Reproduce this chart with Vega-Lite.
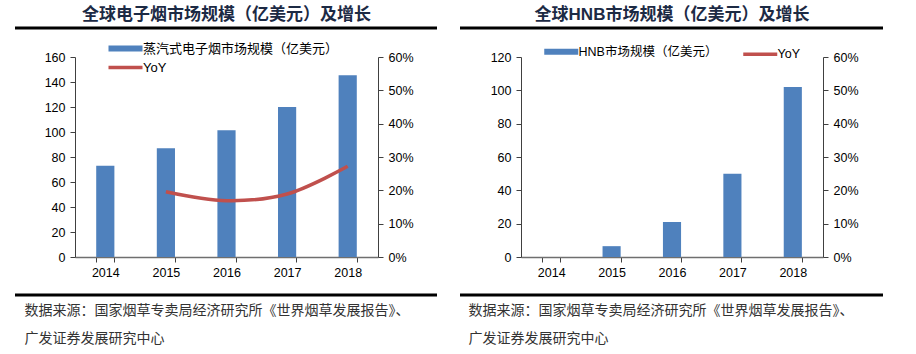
{
  "$schema": "https://vega.github.io/schema/vega-lite/v6.json",
  "background": "white",
  "padding": {"left": 13, "top": 5, "right": 5, "bottom": 5},
  "bounds": "flush",
  "spacing": 143,
  "resolve": {"scale": {"color": "independent"}, "legend": {"color": "independent"}},
  "datasets": {
    "ecig": [
      {"year": "2014", "size": 73, "yoy": null},
      {"year": "2015", "size": 87, "yoy": 0.196},
      {"year": "2016", "size": 101.5, "yoy": 0.169},
      {"year": "2017", "size": 120, "yoy": 0.189},
      {"year": "2018", "size": 145.5, "yoy": 0.272}
    ],
    "hnb": [
      {"year": "2014", "size": 0, "yoy": null},
      {"year": "2015", "size": 6.5, "yoy": null},
      {"year": "2016", "size": 21, "yoy": null},
      {"year": "2017", "size": 50, "yoy": null},
      {"year": "2018", "size": 102, "yoy": null}
    ]
  },
  "config": {
    "view": {"stroke": null},
    "font": "Liberation Sans, Noto Sans CJK SC",
    "axis": {
      "labelFont": "Liberation Sans, Noto Sans CJK SC",
      "labelFontSize": 12.5,
      "labelColor": "#000000",
      "domainColor": "#404040",
      "tickColor": "#404040",
      "tickSize": 5,
      "labelPadding": 5,
      "grid": false
    },
    "title": {
      "font": "Liberation Sans, Noto Sans CJK SC",
      "fontSize": 17,
      "fontWeight": "bold",
      "color": "#1c2a44",
      "anchor": "middle",
      "offset": 3
    },
    "legend": {
      "orient": "none",
      "title": null,
      "padding": 0,
      "symbolType": "stroke",
      "symbolSize": 1156,
      "symbolStrokeWidth": 6,
      "labelFont": "Liberation Sans, Noto Sans CJK SC",
      "labelFontSize": 13,
      "labelColor": "#000000",
      "labelOffset": 11,
      "labelLimit": 400
    }
  },
  "hconcat": [
    {
      "width": 303,
      "height": 200,
      "title": {"text": "全球电子烟市场规模（亿美元）及增长"},
      "data": {"name": "ecig"},
      "encoding": {
        "x": {
          "field": "year",
          "type": "ordinal",
          "scale": {"paddingInner": 0.7, "paddingOuter": 0.35},
          "axis": {
            "labelAngle": 0,
            "tickBand": "extent",
            "domainColor": "#6f6f6f",
            "domainWidth": 1.5,
            "labelPadding": 4,
            "title": ["数据来源：国家烟草专卖局经济研究所《世界烟草发展报告》、", "广发证券发展研究中心"],
            "titleFont": "Noto Sans CJK SC",
            "titleFontSize": 14,
            "titleFontWeight": "normal",
            "titleColor": "#333333",
            "titleAnchor": "start",
            "titleAlign": "left",
            "titleBaseline": "top",
            "titleX": -51,
            "titleY": 46,
            "titleLineHeight": 28
          }
        }
      },
      "layer": [
        {
          "mark": {"type": "bar"},
          "encoding": {
            "y": {
              "field": "size",
              "type": "quantitative",
              "scale": {"domain": [0, 160]},
              "axis": {"orient": "left", "title": null, "values": [0, 20, 40, 60, 80, 100, 120, 140, 160]}
            },
            "color": {
              "datum": "蒸汽式电子烟市场规模（亿美元）",
              "type": "nominal",
              "scale": {"domain": ["蒸汽式电子烟市场规模（亿美元）", "YoY"], "range": ["#4f81bd", "#c0504d"]},
              "legend": {
                "legendX": 44,
                "legendY": -15,
                "direction": "vertical",
                "rowPadding": -7,
                "symbolType": "stroke",
                "encode": {"symbols": {"update": {
                  "strokeWidth": {"signal": "datum.value === 'YoY' ? 3.5 : 6"},
                  "stroke": {"signal": "datum.value === 'YoY' ? '#c0504d' : '#4f81bd'"}
                }}}
              }
            }
          }
        },
        {
          "mark": {"type": "line", "interpolate": "catmull-rom", "strokeWidth": 3.5},
          "encoding": {
            "y": {
              "field": "yoy",
              "type": "quantitative",
              "scale": {"domain": [0, 0.6]},
              "axis": {"orient": "right", "title": null, "format": ".0%", "values": [0, 0.1, 0.2, 0.3, 0.4, 0.5, 0.6]}
            },
            "color": {
              "datum": "YoY",
              "type": "nominal",
              "legend": {
                "legendX": 44,
                "legendY": -15,
                "direction": "vertical",
                "rowPadding": -7,
                "symbolType": "stroke",
                "encode": {"symbols": {"update": {
                  "strokeWidth": {"signal": "datum.value === 'YoY' ? 3.5 : 6"},
                  "stroke": {"signal": "datum.value === 'YoY' ? '#c0504d' : '#4f81bd'"}
                }}}
              }
            }
          }
        },
        {
          "data": {"values": [{}]},
          "mark": {"type": "rule", "color": "#000000", "strokeWidth": 3},
          "encoding": {"x": {"value": -60}, "x2": {"value": 362}, "y": {"value": -29}}
        },
        {
          "data": {"values": [{}]},
          "mark": {"type": "rule", "color": "#000000", "strokeWidth": 3},
          "encoding": {"x": {"value": -60}, "x2": {"value": 362}, "y": {"value": 238}}
        }
      ],
      "resolve": {"scale": {"y": "independent"}}
    },
    {
      "width": 302,
      "height": 200,
      "title": {"text": "全球HNB市场规模（亿美元）及增长"},
      "data": {"name": "hnb"},
      "encoding": {
        "x": {
          "field": "year",
          "type": "ordinal",
          "scale": {"paddingInner": 0.7, "paddingOuter": 0.35},
          "axis": {
            "labelAngle": 0,
            "tickBand": "extent",
            "domainColor": "#6f6f6f",
            "domainWidth": 1.5,
            "labelPadding": 4,
            "title": ["数据来源：国家烟草专卖局经济研究所《世界烟草发展报告》、", "广发证券发展研究中心"],
            "titleFont": "Noto Sans CJK SC",
            "titleFontSize": 14,
            "titleFontWeight": "normal",
            "titleColor": "#333333",
            "titleAnchor": "start",
            "titleAlign": "left",
            "titleBaseline": "top",
            "titleX": -53,
            "titleY": 46,
            "titleLineHeight": 28
          }
        }
      },
      "layer": [
        {
          "mark": {"type": "bar"},
          "encoding": {
            "y": {
              "field": "size",
              "type": "quantitative",
              "scale": {"domain": [0, 120]},
              "axis": {"orient": "left", "title": null, "values": [0, 20, 40, 60, 80, 100, 120]}
            },
            "color": {
              "datum": "HNB市场规模（亿美元）",
              "type": "nominal",
              "scale": {"domain": ["HNB市场规模（亿美元）", "YoY"], "range": ["#4f81bd", "#c0504d"]},
              "legend": {
                "legendX": 34,
                "legendY": -12,
                "direction": "horizontal",
                "columnPadding": 18,
                "labelFontSize": 12.5,
                "symbolType": "stroke",
                "encode": {"symbols": {"update": {
                  "strokeWidth": {"signal": "datum.value === 'YoY' ? 3.5 : 6"},
                  "stroke": {"signal": "datum.value === 'YoY' ? '#c0504d' : '#4f81bd'"}
                }}}
              }
            }
          }
        },
        {
          "mark": {"type": "line", "interpolate": "catmull-rom", "strokeWidth": 3.5, "clip": true},
          "encoding": {
            "y": {
              "field": "yoy",
              "type": "quantitative",
              "scale": {"domain": [0, 0.6]},
              "axis": {"orient": "right", "title": null, "format": ".0%", "values": [0, 0.1, 0.2, 0.3, 0.4, 0.5, 0.6]}
            },
            "color": {
              "datum": "YoY",
              "type": "nominal",
              "legend": {
                "legendX": 34,
                "legendY": -12,
                "direction": "horizontal",
                "columnPadding": 18,
                "labelFontSize": 12.5,
                "symbolType": "stroke",
                "encode": {"symbols": {"update": {
                  "strokeWidth": {"signal": "datum.value === 'YoY' ? 3.5 : 6"},
                  "stroke": {"signal": "datum.value === 'YoY' ? '#c0504d' : '#4f81bd'"}
                }}}
              }
            }
          }
        },
        {
          "data": {"values": [{}]},
          "mark": {"type": "rule", "color": "#000000", "strokeWidth": 3},
          "encoding": {"x": {"value": -61}, "x2": {"value": 362}, "y": {"value": -29}}
        },
        {
          "data": {"values": [{}]},
          "mark": {"type": "rule", "color": "#000000", "strokeWidth": 3},
          "encoding": {"x": {"value": -61}, "x2": {"value": 362}, "y": {"value": 238}}
        }
      ],
      "resolve": {"scale": {"y": "independent"}}
    }
  ]
}
